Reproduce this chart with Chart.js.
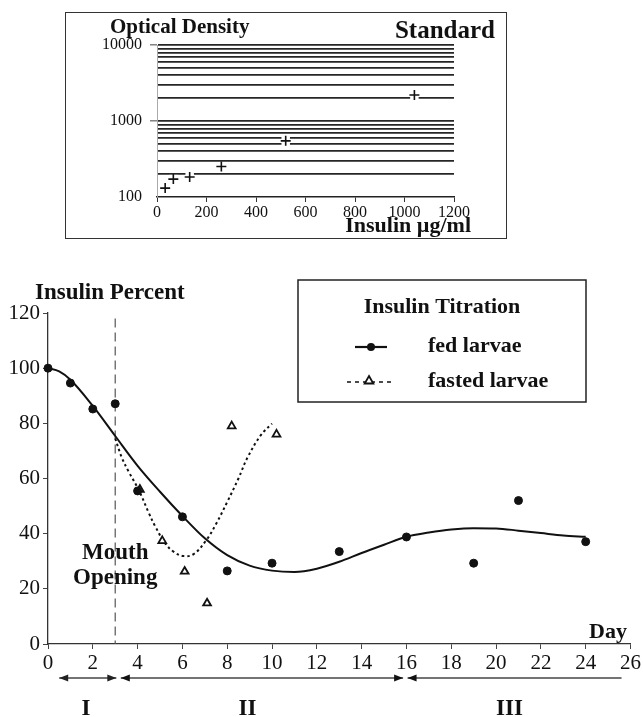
<!DOCTYPE html>
<html>
<head>
<meta charset="utf-8">
<script src="https://cdn.jsdelivr.net/npm/chart.js@4.4.0/dist/chart.umd.min.js"></script>
<style>
  body { margin: 0; background: #fff; }
  #page { position: relative; width: 643px; height: 717px; overflow: hidden; }
  #stdBox { position: absolute; left: 65px; top: 12px; width: 440px; height: 225px; border: 1.6px solid #333; }
  #stdChart { position: absolute; left: 65px; top: 13px; }
  #mainChart { position: absolute; left: 0; top: 250px; }
</style>
</head>
<body>
<div id="page">
  <div id="stdBox"></div>
  <canvas id="stdChart" width="443" height="227"></canvas>
  <canvas id="mainChart" width="643" height="467"></canvas>
</div>
<script>
// Standard curve (inset)
const insulinConc = [33, 66, 132, 260, 520, 1040];
const opticalDensity = [131, 172, 183, 252, 548, 2200];
const odGridValues = [100, 200, 300, 400, 500, 600, 700, 800, 900,
  1000, 2000, 3000, 4000, 5000, 6000, 7000, 8000, 9000, 10000];
const odTickLabels = [100, 1000, 10000];

// Insulin titration (main chart)
const fedDays = [0, 1, 2, 3, 4, 6, 8, 10, 13, 16, 19, 21, 24];
const fedInsulin = [100, 94.6, 85.2, 87.1, 55.5, 46.1, 26.5, 29.3, 33.5, 38.8, 29.3, 52, 37.1];
const fastedDays = [4.1, 5.1, 6.1, 7.1, 8.2, 10.2];
const fastedInsulin = [56, 37.4, 26.3, 14.8, 79, 76];

// fitted curves
const fedFitDays = [0, 0.5, 1, 2, 3, 4, 5, 6, 7, 8, 9, 10, 11, 12, 13, 14, 15, 16, 17, 18, 19, 20, 21, 22, 23, 24];
const fedFitValues = [100, 98.8, 95.8, 86.3, 75.4, 64.6, 55.2, 46.4, 38.3, 32.2, 28.4, 26.6, 26.1, 27.3, 29.8, 33, 36, 38.9, 40.4, 41.5, 42, 41.9, 41.1, 40.2, 39.3, 38.9];
const fastedFitDays = [3, 3.3, 3.6, 4.05, 4.5, 4.79, 5.23, 5.6, 6.04, 6.5, 7.07, 7.5, 8, 8.5, 8.9, 9.5, 10];
const fastedFitValues = [74.5, 67.5, 62.5, 55.8, 47.5, 42.6, 36.5, 33.5, 31.9, 32.6, 37.7, 43.5, 51.5, 60, 67.5, 75.7, 79.9];

const mouthOpeningDay = 3;
const phaseNames = ['I', 'II', 'III'];
const phaseStart = [0.5, 3.25, 16.05];
const phaseEnd = [3.05, 15.85, 25.6];
const phaseLabelDay = [1.7, 8.9, 20.6];

const SERIF = "'Liberation Serif', 'Times New Roman', serif";
Chart.defaults.font.family = SERIF;
Chart.defaults.color = '#111';

function toXY(xs, ys) {
  return xs.map((x, i) => ({ x: x, y: ys[i] }));
}

function text(ctx, str, x, y, size, align) {
  ctx.font = 'bold ' + size + 'px ' + SERIF;
  ctx.textAlign = align || 'left';
  ctx.textBaseline = 'middle';
  ctx.fillStyle = '#111';
  ctx.fillText(str, x, y);
}

// ---------- inset: standard curve ----------
const stdLabels = {
  id: 'stdLabels',
  afterDraw(chart) {
    const ctx = chart.ctx;
    ctx.save();
    text(ctx, 'Optical Density', 45, 15, 21);
    text(ctx, 'Standard', 430, 19, 25, 'right');
    text(ctx, 'Insulin \u00b5g/ml', 406, 213, 22, 'right');
    ctx.restore();
  }
};

new Chart(document.getElementById('stdChart'), {
  type: 'scatter',
  data: {
    datasets: [
      {
        data: toXY(insulinConc, opticalDensity),
        pointStyle: 'cross',
        pointRadius: 5,
        borderWidth: 1.6,
        borderColor: '#111',
        clip: false
      },
      {
        // white gap behind each cross, as in the print
        data: toXY(insulinConc, opticalDensity),
        pointStyle: 'rect',
        pointRadius: 6,
        borderWidth: 0,
        backgroundColor: '#fff',
        clip: false
      }
    ]
  },
  options: {
    responsive: false,
    animation: false,
    layout: { padding: { left: 0, top: 32, right: 54, bottom: 0 } },
    plugins: { legend: { display: false }, tooltip: { enabled: false } },
    scales: {
      x: {
        type: 'linear', min: 0, max: 1200,
        ticks: { stepSize: 200, font: { size: 16 }, padding: 1, color: '#111', callback: v => String(v) },
        grid: { drawOnChartArea: false, tickLength: 5, color: '#333' },
        border: { color: '#222', width: 1.5 },
        afterFit(s) { s.height = 43; }
      },
      y: {
        type: 'logarithmic', min: 100, max: 10000,
        afterBuildTicks(s) { s.ticks = odGridValues.map(v => ({ value: v })); },
        ticks: {
          autoSkip: false, font: { size: 16 }, padding: 8, color: '#111',
          callback: v => odTickLabels.includes(v) ? String(v) : ''
        },
        grid: {
          color: c => c.tick && c.tick.value === 100 ? 'rgba(0,0,0,0)' : '#262626',
          lineWidth: 1.7,
          tickLength: 7,
          tickColor: c => c.tick && odTickLabels.includes(c.tick.value) && c.tick.value !== 100 ? '#444' : 'rgba(0,0,0,0)',
          tickWidth: 1
        },
        border: { color: '#aaa', width: 1 },
        afterFit(s) { s.width = 92; }
      }
    }
  },
  plugins: [stdLabels]
});

// ---------- main chart: insulin titration ----------
const overlay = {
  id: 'overlay',
  beforeDatasetsDraw(chart) {
    const { ctx, scales: { x, y } } = chart;
    const px = x.getPixelForValue(mouthOpeningDay);
    ctx.save();
    ctx.strokeStyle = '#555';
    ctx.lineWidth = 1.2;
    ctx.setLineDash([9, 5]);
    ctx.beginPath();
    ctx.moveTo(px, y.getPixelForValue(118));
    ctx.lineTo(px, y.getPixelForValue(0));
    ctx.stroke();
    ctx.restore();
  },
  afterDraw(chart) {
    const { ctx, scales: { x, y }, chartArea } = chart;
    ctx.save();
    text(ctx, 'Insulin Percent', 35, 43, 23);
    text(ctx, 'Day', 627, 382, 22, 'right');
    const mx = x.getPixelForValue(mouthOpeningDay);
    text(ctx, 'Mouth', mx, 303, 23, 'center');
    text(ctx, 'Opening', mx, 328, 23, 'center');

    // legend
    ctx.strokeStyle = '#222';
    ctx.lineWidth = 1.5;
    ctx.strokeRect(298, 30, 288, 122);
    text(ctx, 'Insulin Titration', 442, 57, 22, 'center');
    text(ctx, 'fed larvae', 428, 96, 22);
    text(ctx, 'fasted larvae', 428, 131, 22);
    ctx.strokeStyle = '#111';
    ctx.lineWidth = 2.2;
    ctx.beginPath(); ctx.moveTo(355, 97); ctx.lineTo(387, 97); ctx.stroke();
    ctx.fillStyle = '#111'; ctx.beginPath(); ctx.arc(371, 97, 4, 0, Math.PI * 2); ctx.fill();
    ctx.setLineDash([4, 4]);
    ctx.lineWidth = 1.5;
    ctx.beginPath(); ctx.moveTo(347, 132); ctx.lineTo(392, 132); ctx.stroke();
    ctx.setLineDash([]);
    ctx.fillStyle = '#fff';
    ctx.lineWidth = 1.8;
    Chart.helpers.drawPoint(ctx, { pointStyle: 'triangle', radius: 5, borderWidth: 1.8 }, 369, 131);

    // phase arrows
    const ay = chartArea.bottom + 34;
    ctx.strokeStyle = '#444';
    ctx.fillStyle = '#222';
    ctx.lineWidth = 1.6;
    phaseNames.forEach((name, i) => {
      const x0 = x.getPixelForValue(phaseStart[i]);
      const x1 = x.getPixelForValue(phaseEnd[i]);
      ctx.beginPath(); ctx.moveTo(x0, ay); ctx.lineTo(x1, ay); ctx.stroke();
      ctx.beginPath(); ctx.moveTo(x0, ay); ctx.lineTo(x0 + 9, ay - 3.5); ctx.lineTo(x0 + 9, ay + 3.5); ctx.fill();
      if (i < phaseNames.length - 1) {
        ctx.beginPath(); ctx.moveTo(x1, ay); ctx.lineTo(x1 - 9, ay - 3.5); ctx.lineTo(x1 - 9, ay + 3.5); ctx.fill();
      }
      text(ctx, name, x.getPixelForValue(phaseLabelDay[i]), chartArea.bottom + 65, 23, 'center');
    });
    ctx.restore();
  }
};

new Chart(document.getElementById('mainChart'), {
  type: 'scatter',
  data: {
    datasets: [
      {
        label: 'fed larvae',
        data: toXY(fedDays, fedInsulin),
        pointStyle: 'circle', pointRadius: 4,
        backgroundColor: '#111', borderColor: '#111', borderWidth: 1,
        clip: false
      },
      {
        label: 'fasted larvae',
        data: toXY(fastedDays, fastedInsulin),
        pointStyle: 'triangle', pointRadius: 4.5,
        backgroundColor: '#fff', borderColor: '#111', borderWidth: 1.8,
        clip: false
      },
      {
        label: 'fed fit',
        data: toXY(fedFitDays, fedFitValues),
        showLine: true, pointRadius: 0,
        borderColor: '#111', borderWidth: 2,
        cubicInterpolationMode: 'monotone'
      },
      {
        label: 'fasted fit',
        data: toXY(fastedFitDays, fastedFitValues),
        showLine: true, pointRadius: 0,
        borderColor: '#111', borderWidth: 2,
        borderDash: [2.5, 3],
        tension: 0.4
      }
    ]
  },
  options: {
    responsive: false,
    animation: false,
    layout: { padding: { left: 0, top: 63, right: 6, bottom: 0 } },
    plugins: { legend: { display: false }, tooltip: { enabled: false } },
    scales: {
      x: {
        type: 'linear', min: 0, max: 26,
        ticks: { stepSize: 2, font: { size: 21 }, padding: 2, color: '#111' },
        grid: { drawOnChartArea: false, tickLength: 5, color: '#444' },
        border: { color: '#333', width: 1.3 },
        afterFit(s) { s.height = 73; }
      },
      y: {
        type: 'linear', min: 0, max: 120,
        ticks: { stepSize: 20, font: { size: 21 }, padding: 3, color: '#111' },
        grid: { drawOnChartArea: false, tickLength: 5, color: '#444' },
        border: { color: '#333', width: 1.3 },
        afterFit(s) { s.width = 48; }
      }
    }
  },
  plugins: [overlay]
});
</script>
</body>
</html>
